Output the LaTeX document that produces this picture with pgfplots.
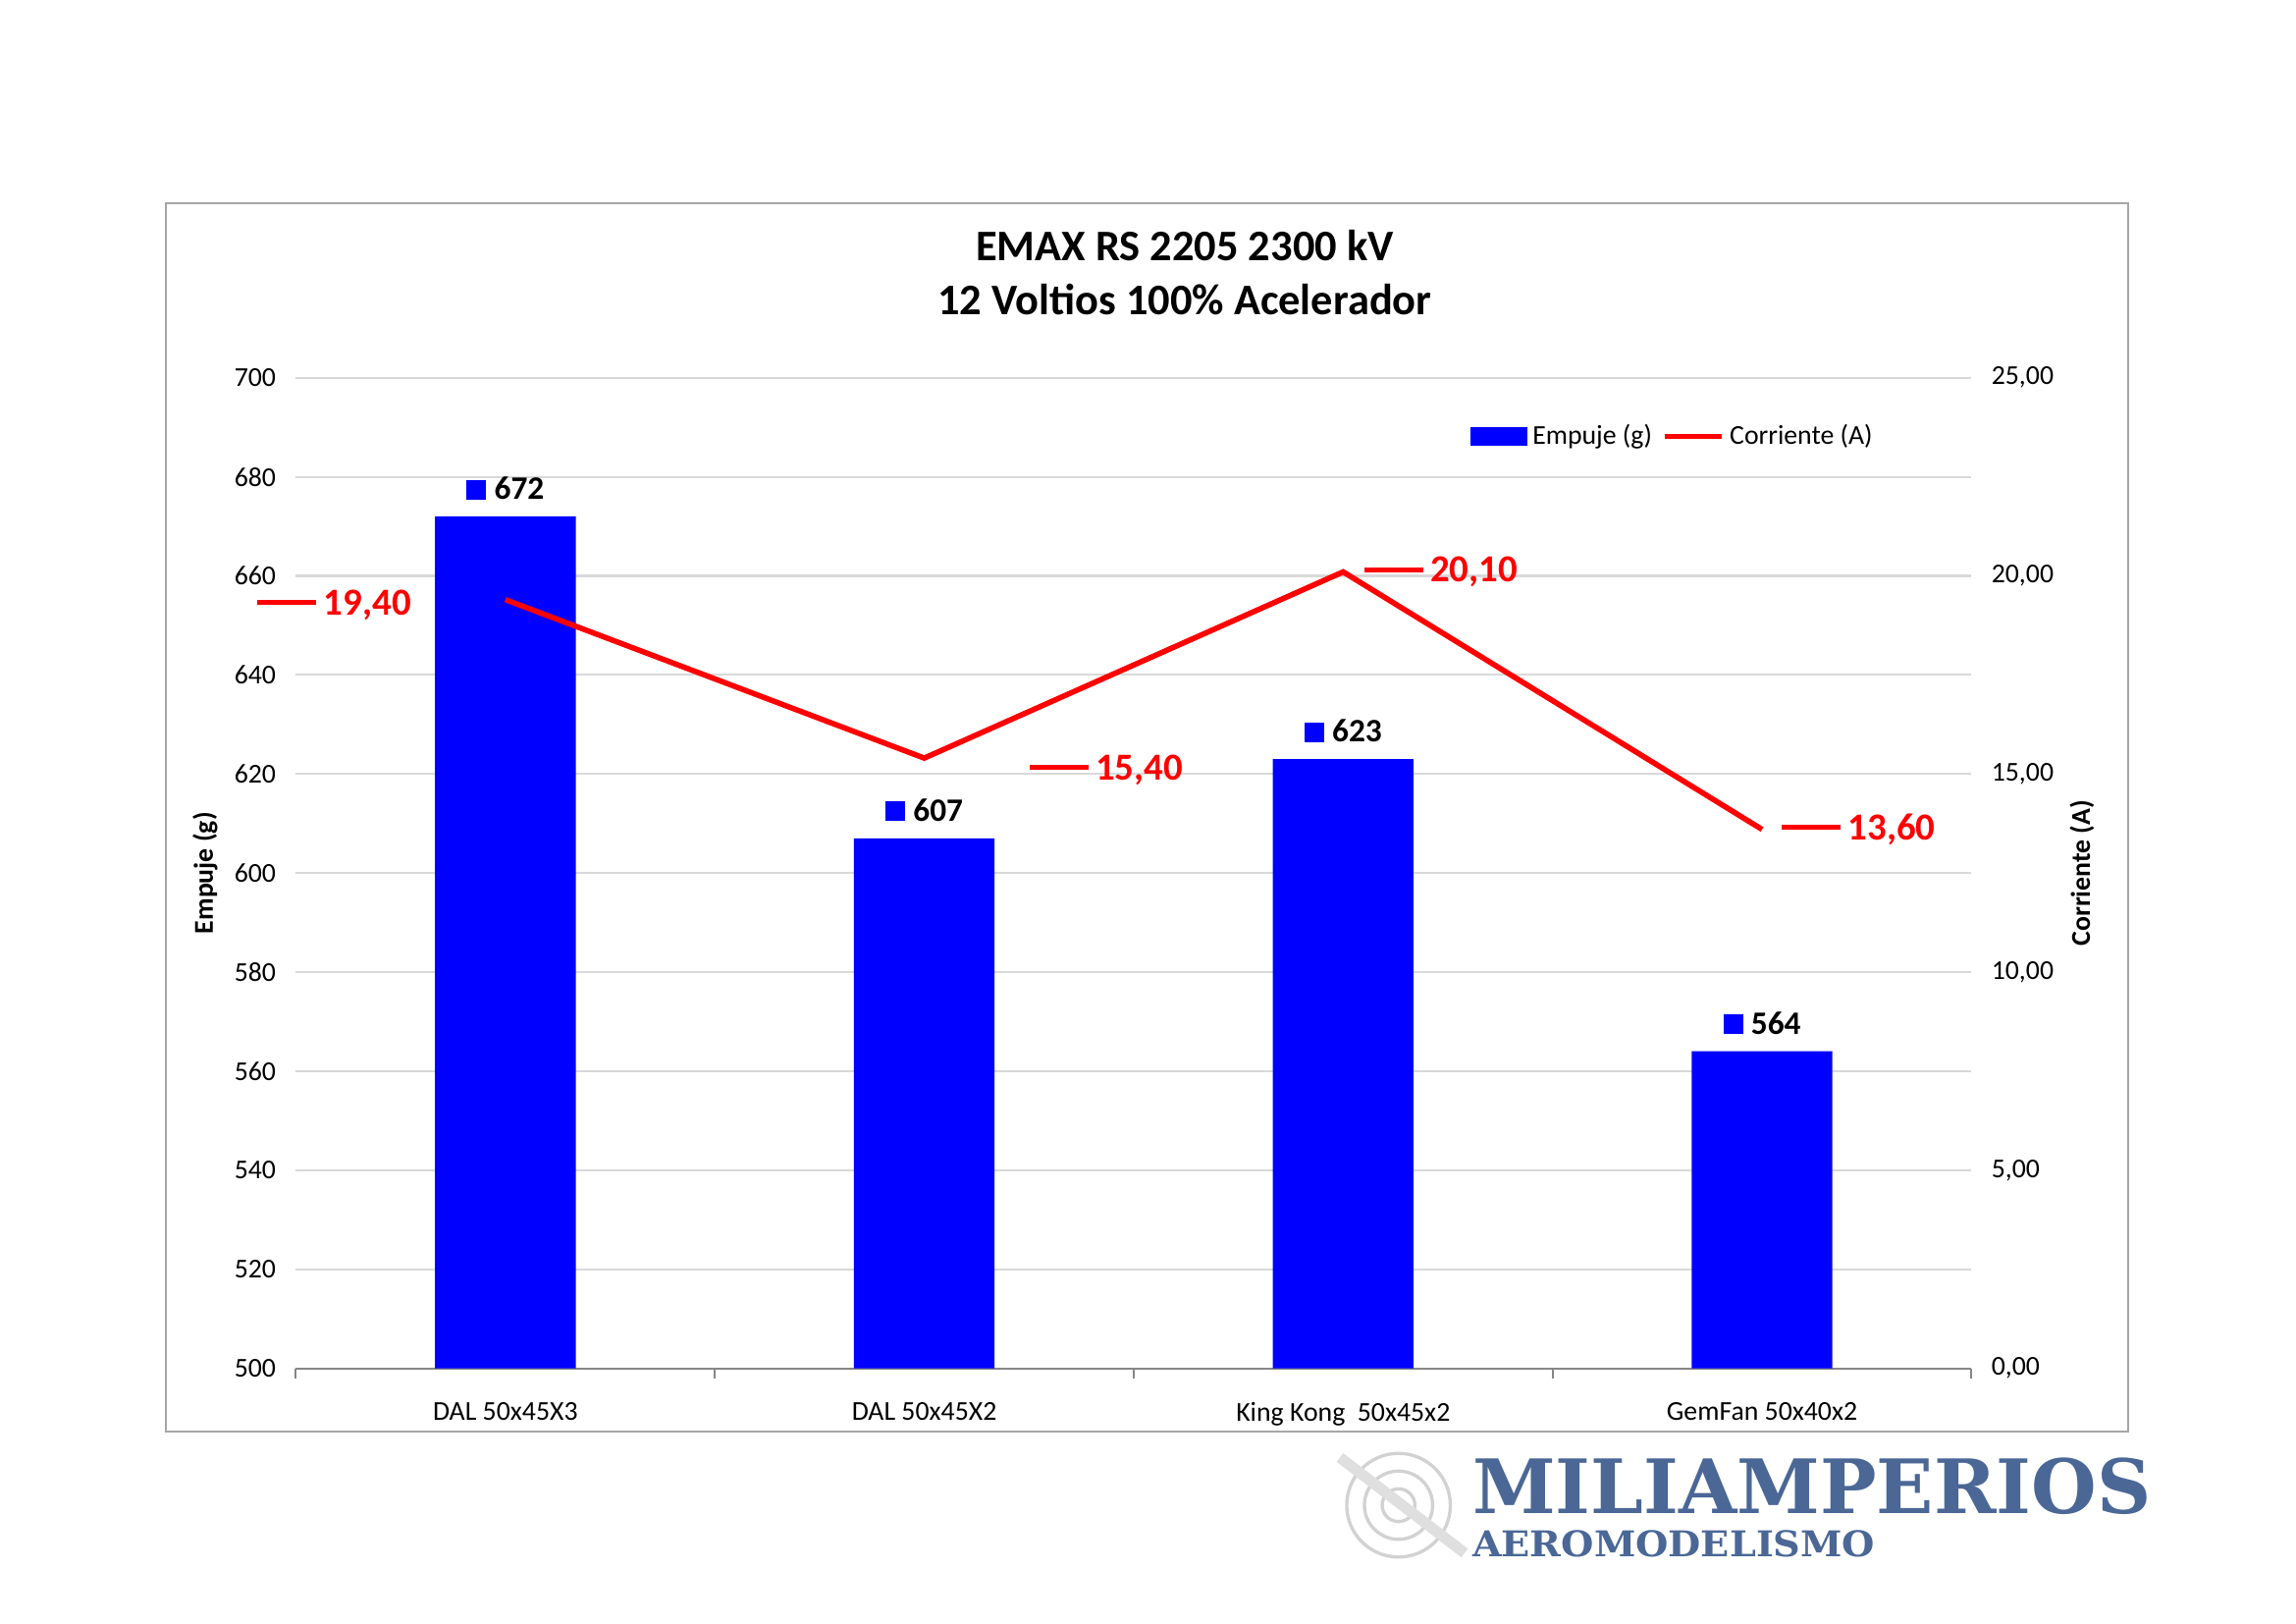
\documentclass[border=0pt]{standalone}
\usepackage{pgfplots}
\pgfplotsset{compat=1.18}
\usepackage{pgfplotstable}
\usepackage{graphicx}
\usepackage{fontspec}
\setmainfont{Carlito}
\newfontfamily\logofont{DejaVu Serif}
\usetikzlibrary{calc}
\definecolor{gridgray}{HTML}{D9D9D9}
\definecolor{framegray}{HTML}{A6A6A6}
\definecolor{axisgray}{HTML}{868686}
\definecolor{logoblue}{HTML}{4A6796}
\definecolor{xred}{HTML}{FF0000}
\definecolor{xblue}{HTML}{0000FF}

\pgfplotstableread{
x y
0 672
1 607
2 623
3 564
}\empuje
\pgfplotstableread{
x y
0 19.40
1 15.40
2 20.10
3 13.60
}\corriente

\pgfplotsset{
  /pgf/number format/assume math mode=true,
  common/.style={
    at={(108.5pt,93.7pt)}, anchor=south west,
    width=614.4pt, height=363.1pt, scale only axis,
    xmin=-0.5, xmax=3.5,
    tick label style={font=\fontsize{10}{12}\selectfont},
    label style={font=\fontsize{10}{12}\selectfont\bfseries},
    tick align=outside, major tick length=3.8pt,
  },
  redlab/.style 2 args={draw=none, mark=none, forget plot,
    nodes near coords={\textcolor{xred}{\rule[3.6pt]{21.6pt}{1.8pt}}\hspace{2.7pt}\pgfmathprintnumber[fixed,fixed zerofill,precision=2,use comma]{\pgfplotspointmeta}},
    every node near coord/.append style={font=\fontsize{14}{16}\selectfont\bfseries, text=xred, anchor=center, xshift=#1, yshift=#2}},
}

\begin{document}
\begin{tikzpicture}
\useasboundingbox (0,0) rectangle (841.89pt,595.28pt);
\fill[white] (0,0) rectangle (841.89pt,595.28pt);
\draw[framegray, line width=0.75pt] (60.7pt,70.6pt) rectangle (780.3pt,520.7pt);
\node[anchor=base, inner sep=0, font=\fontsize{16}{19}\selectfont\bfseries] at (434.4pt,499.7pt) {EMAX RS 2205 2300 kV};
\node[anchor=base, inner sep=0, font=\fontsize{16}{19}\selectfont\bfseries] at (434.4pt,479.9pt) {12 Voltios 100\% Acelerador};

% logo
\begin{scope}[gray!35, line width=1.2pt]
  \draw (512.8pt,43.5pt) circle (19pt);
  \draw (512.8pt,43.5pt) circle (12.5pt);
  \draw (512.8pt,43.5pt) circle (6pt);
  \draw[line width=4pt, gray!25] (491.3pt,61pt) -- (537pt,26pt);
\end{scope}
\node[anchor=base west, inner sep=0, text=logoblue] at (539.7pt,40.6pt) {\resizebox{248.8pt}{20.4pt}{\logofont\bfseries MILIAMPERIOS}};
\node[anchor=base west, inner sep=0, text=logoblue] at (539.7pt,24.5pt) {\resizebox{147.7pt}{9.65pt}{\logofont\bfseries AEROMODELISMO}};

\begin{axis}[common,
  ymin=500, ymax=700, ytick={500,520,...,700},
  axis x line*=bottom, axis y line*=left,
  y axis line style={draw=none},
  x axis line style={axisgray, line width=0.75pt, -},
  ymajorgrids, grid style={gridgray, line width=0.75pt},
  ytick style={draw=none},
  xtick={-0.5,0.5,1.5,2.5,3.5}, xticklabels={},
  xtick style={axisgray, line width=0.75pt},
  extra x ticks={0,1,2,3},
  extra x tick labels={DAL 50x45X3,DAL 50x45X2,King Kong\ \ 50x45x2,GemFan 50x40x2},
  extra x tick style={xtick style={draw=none}, grid=none, xticklabel style={yshift=-5.2pt}},
  ylabel={Empuje (g)},
  ylabel style={at={($(rel axis cs:0,0.5)+(-33.3pt,0)$)}, anchor=center},
]
\addplot[ybar, bar width=51.6pt, fill=xblue, draw=none,
  nodes near coords={\textcolor{xblue}{\rule{7.2pt}{7.2pt}}\hspace{3pt}\pgfmathprintnumber{\pgfplotspointmeta}},
  every node near coord/.append style={font=\fontsize{12}{14}\selectfont\bfseries, text=black, anchor=center, yshift=10.3pt},
] table[x=x,y=y]{\empuje};
\end{axis}

\begin{axis}[common,
  ymin=0, ymax=25, ytick={0,5,...,25},
  axis y line*=right, axis x line=none,
  y axis line style={draw=none}, ytick style={draw=none},
  y tick label style={/pgf/number format/fixed, /pgf/number format/fixed zerofill, /pgf/number format/precision=2, /pgf/number format/use comma},
  ylabel={Corriente (A)},
  ylabel style={at={($(rel axis cs:1,0.5)+(40.5pt,0)$)}, anchor=center},
  legend columns=2,
  legend style={draw=none, fill=none, at={(0.9494,0.9408)}, anchor=east,
    font=\fontsize{10}{12}\selectfont,
    /tikz/every even column/.append style={column sep=1.5pt}},
]
\addlegendimage{legend image code/.code={\fill[xblue] (0pt,-3.3pt) rectangle (20.5pt,3.3pt);}}
\addlegendentry{Empuje (g)}
\addplot[xred, line width=2pt, mark=none,
  legend image code/.code={\draw[xred, line width=2pt] (0pt,0pt) -- (21pt,0pt);},
] table[x=x,y=y]{\corriente};
\addlegendentry{Corriente (A)}
\addplot[redlab={-62.7pt}{-2pt}] coordinates {(0,19.40)};
\addplot[redlab={66.7pt}{-4.3pt}] coordinates {(1,15.40)};
\addplot[redlab={35.8pt}{0pt}] coordinates {(2,20.10)};
\addplot[redlab={35.4pt}{0pt}] coordinates {(3,13.60)};
\end{axis}
\end{tikzpicture}
\end{document}
